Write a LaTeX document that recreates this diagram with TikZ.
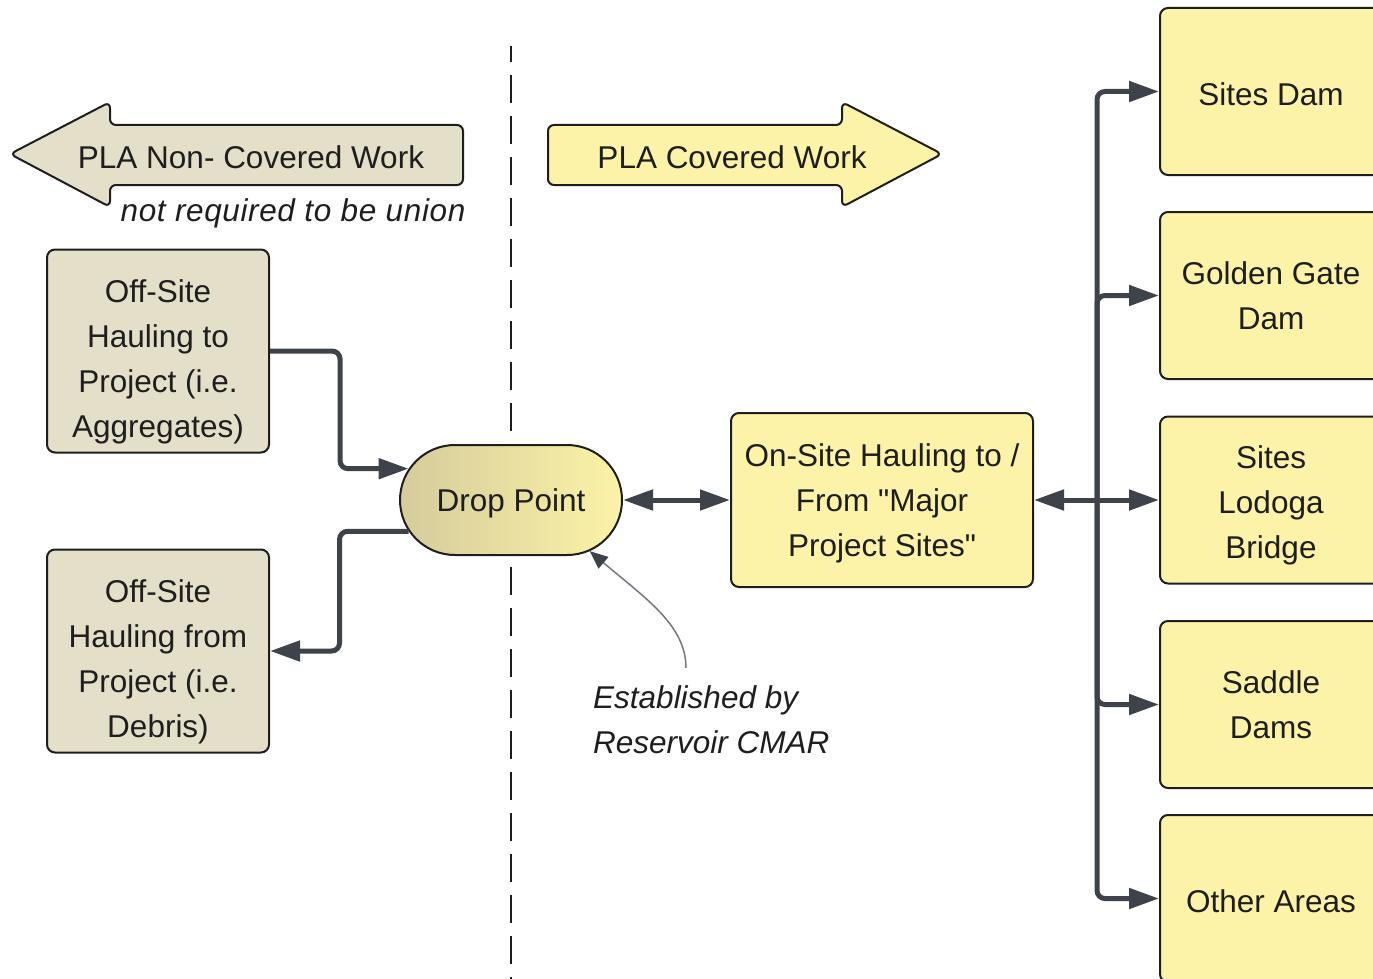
\documentclass[tikz,border=0pt]{standalone}
\usepackage{fontspec}
\setmainfont{Liberation Sans}
\usetikzlibrary{arrows.meta,shapes.misc}

\definecolor{beige}{HTML}{E4DFC9}
\definecolor{paleyellow}{HTML}{FDF3A8}
\definecolor{ink}{HTML}{1E1E1E}
\definecolor{wire}{HTML}{3E434B}
\definecolor{note}{HTML}{737880}
\definecolor{dpleft}{HTML}{D5CB9C}
\definecolor{dpmid}{HTML}{E8E3CD}
\definecolor{dpright}{HTML}{FCF3A7}

\newcommand\diagfont{\fontsize{31.5}{45}\selectfont}

\begin{document}
\begin{tikzpicture}[x=1pt,y=-1pt,
  every node/.style={text=ink, font=\diagfont},
  >={Triangle[length=30pt,width=20pt]},
  box/.style={draw=ink, line width=2pt, rounded corners=8pt, align=center, inner sep=0pt},
  offsite/.style={box, fill=beige, minimum width=222pt, minimum height=203pt},
  site/.style={box, fill=paleyellow, minimum width=222pt, minimum height=167pt},
  caption/.style={align=center, inner sep=0pt},
  banner/.style={draw=ink, line width=2pt, rounded corners=6pt, line join=round},
  conn/.style={draw=wire, line width=5pt, rounded corners=8pt},
  divider/.style={draw=ink, line width=2pt, dash pattern=on 28pt off 13pt, dash phase=12pt},
  remark/.style={font=\diagfont\itshape, inner sep=0pt}
]
\useasboundingbox (0,0) rectangle (1373,979);
\clip (0,0) rectangle (1373,979);

% divider between non-covered and covered work
\coordinate (divtop) at (511,46);
\coordinate (divbot) at (511,979);
\draw[divider] (divtop) -- (divbot);

% banner arrows
\draw[banner, fill=beige] (463,125) -- (110,125) -- (110,102) -- (10,154)
  -- (110,207) -- (110,185) -- (463,185) -- cycle;
\node (ncw) at (251,157) {PLA Non- Covered Work};
\node[remark] (union) at (293,213) {\addfontfeature{LetterSpace=2}not required to be union};

\draw[banner, fill=paleyellow] (548,125) -- (842,125) -- (842,102) -- (942,154)
  -- (842,207) -- (842,185) -- (548,185) -- cycle;
\node (cw) at (732,157) {PLA Covered Work};

% off-site hauling
\node[offsite] (b1) at (158,351) {};
\node[caption] (b1t) at (158,362) {Off-Site\\Hauling to\\Project (i.e.\\Aggregates)};
\node[offsite] (b2) at (158,651) {};
\node[caption] (b2t) at (158,662) {Off-Site\\Hauling from\\Project (i.e.\\Debris)};

% drop point
\node[draw=ink, line width=2pt, shape=rounded rectangle, minimum width=222pt,
  minimum height=110pt, inner sep=0pt,
  left color=dpleft, middle color=dpmid, right color=dpright] (dp) at (511,500) {};
\node[caption] (dpt) at (511,503) {Drop Point};

% on-site hauling
\node[box, fill=paleyellow, minimum width=302pt, minimum height=174pt] (on) at (882,500) {};
\node[caption] (ont) at (882,503)
  {On-Site Hauling to /\\From \textquotedbl Major\\Project Sites\textquotedbl};

% major project sites
\node[site] (r1) at (1271,91.5) {};
\node[caption] (r1t) at (1271,94) {Sites Dam};
\node[site] (r2) at (1271,295.5) {Golden Gate\\Dam};
\node[site] (r3) at (1271,500) {};
\node[caption] (r3t) at (1271,505) {Sites\\Lodoga\\Bridge};
\node[site] (r4) at (1271,704.5) {Saddle\\Dams};
\node[site] (r5) at (1271,898.5) {};
\node[caption] (r5t) at (1271,901) {Other Areas};

% connectors
\draw[conn,->] (b1.east) -- ++(70,0) |- (dp.163);
\draw[conn,->] (dp.197) -- ++(-69,0) |- (b2.east);
\draw[conn,<->] (dp.east) -- (on.west);

\coordinate (junc) at (1097,500);
\draw[conn,<-] (on.east) -- (junc);
\draw[conn,->] (junc) |- (r1.west);
\draw[conn,->] (junc) |- (r2.west);
\draw[conn,->] (junc) -- (r3.west);
\draw[conn,->] (junc) |- (r4.west);
\draw[conn,->] (junc) |- (r5.west);

% annotation
\node[remark, align=left, anchor=north west] (est) at (593,685) {Established by\\Reservoir CMAR};
\coordinate (anno) at (686,668);
\draw[note, line width=1.5pt, -{Triangle[length=18pt,width=15pt,color=wire]}]
  (anno) .. controls (686,625) and (645,598) .. (dp.327);
\end{tikzpicture}
\end{document}
